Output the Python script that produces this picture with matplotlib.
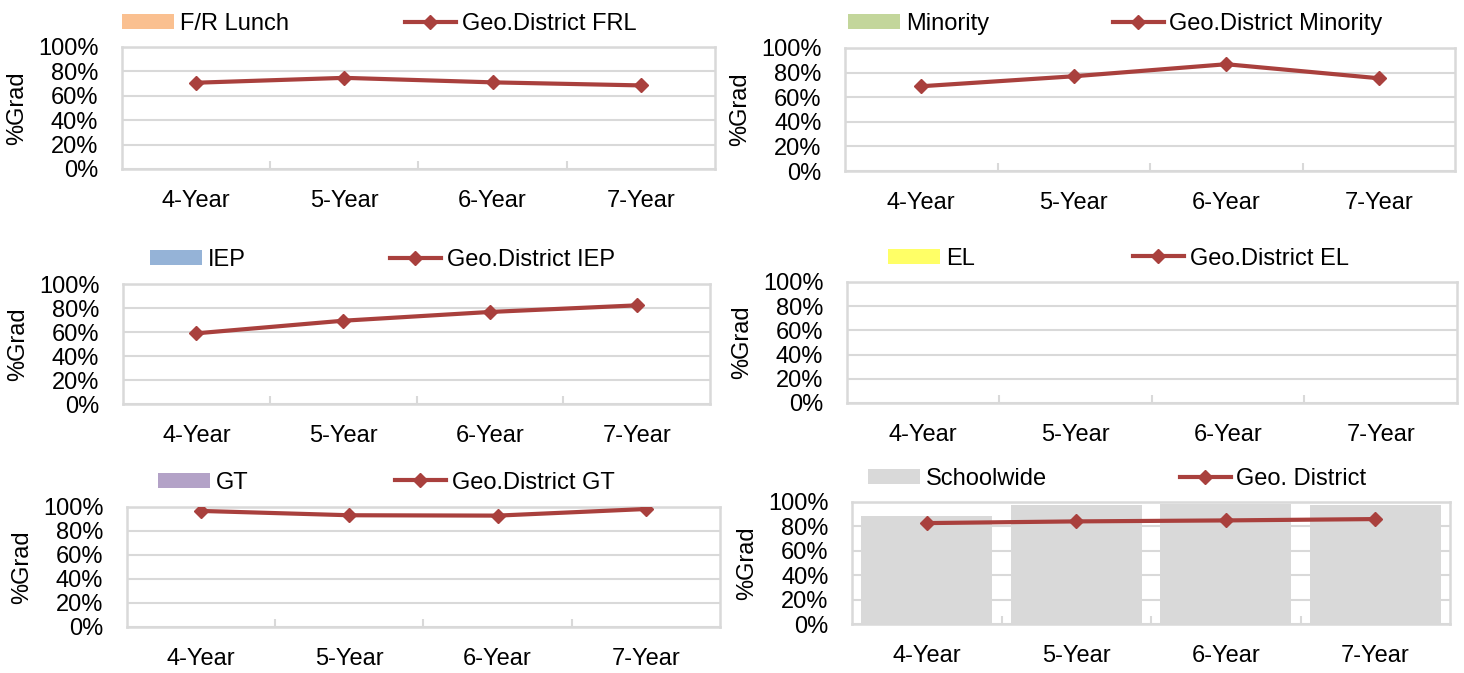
import numpy as np
import matplotlib.pyplot as plt
from matplotlib.patches import Patch
from matplotlib.lines import Line2D

plt.rcParams['font.family'] = ['Liberation Sans Narrow', 'Liberation Sans', 'DejaVu Sans']

years = ["4-Year", "5-Year", "6-Year", "7-Year"]
pct_ticks = [0, 20, 40, 60, 80, 100]

# school values (only schoolwide has bars)
frl_school = [np.nan, np.nan, np.nan, np.nan]
minority_school = [np.nan, np.nan, np.nan, np.nan]
iep_school = [np.nan, np.nan, np.nan, np.nan]
el_school = [np.nan, np.nan, np.nan, np.nan]
gt_school = [np.nan, np.nan, np.nan, np.nan]
schoolwide = [88.5, 97.3, 98.1, 97.5]

# geo district lines
frl_geo = [70.7, 74.7, 71.0, 68.5]
minority_geo = [68.9, 77.0, 86.8, 75.4]
iep_geo = [58.9, 69.4, 76.7, 82.2]
el_geo = [np.nan, np.nan, np.nan, np.nan]
gt_geo = [96.7, 93.1, 92.8, 98.3]
district = [82.7, 84.1, 84.9, 86.0]

RED = '#A9403D'
GRID = '#D9D9D9'
FS = 17

fig = plt.figure(figsize=(14.64, 6.73), dpi=100)


def panel(rect, school, geo, bar_col, bar_name, line_name, leg_bar_x, leg_line_x, leg_y):
    ax = fig.add_axes(rect)
    x = np.arange(len(years))
    ax.set_axisbelow(True)
    ax.bar(x, school, width=0.876, color=bar_col, zorder=2)
    ax.plot(x, geo, color=RED, lw=3, marker='D', ms=7.5, zorder=3)
    ax.set_xlim(-0.5, 3.5)
    ax.set_ylim(0, 100)
    ax.set_yticks(pct_ticks)
    ax.set_yticklabels([f"{t}%" for t in pct_ticks])
    ax.set_xticks(x)
    ax.set_xticklabels(years)
    ax.set_xticks([0.5, 1.5, 2.5], minor=True)
    ax.tick_params(axis='both', which='major', length=0, labelsize=FS)
    ax.tick_params(axis='y', pad=17)
    ax.tick_params(axis='x', pad=15)
    ax.tick_params(axis='x', which='minor', direction='in', length=6, width=1.5, color=GRID)
    ax.grid(axis='y', color=GRID, lw=1.5)
    for s in ax.spines.values():
        s.set_color(GRID)
        s.set_linewidth(1.8)
    ax.set_ylabel('%Grad', fontsize=FS, labelpad=7)

    h1 = Patch(facecolor=bar_col, edgecolor='none')
    leg1 = ax.legend([h1], [bar_name], loc='center left', bbox_to_anchor=(leg_bar_x, leg_y),
                     frameon=False, fontsize=FS, handlelength=2.2, handleheight=0.57,
                     handletextpad=0.25, borderpad=0, borderaxespad=0)
    ax.add_artist(leg1)
    h2 = Line2D([], [], color=RED, lw=3, marker='D', ms=7.5)
    ax.legend([h2], [line_name], loc='center left', bbox_to_anchor=(leg_line_x, leg_y),
              frameon=False, fontsize=FS, handlelength=2.15, numpoints=1,
              handletextpad=0.25, borderpad=0, borderaxespad=0)
    return ax


panel([0.0833, 0.7489, 0.4051, 0.1813], frl_school, frl_geo, '#FAC090',
      'F/R Lunch', 'Geo.District FRL', 0.0, 0.477, 1.19)
panel([0.5772, 0.7459, 0.4167, 0.1828], minority_school, minority_geo, '#C3D69B',
      'Minority', 'Geo.District Minority', 0.005, 0.439, 1.196)
panel([0.0840, 0.3997, 0.4010, 0.1783], iep_school, iep_geo, '#95B3D7',
      'IEP', 'Geo.District IEP', 0.046, 0.455, 1.202)
panel([0.5785, 0.4012, 0.4167, 0.1798], el_school, el_geo, '#FFFF66',
      'EL', 'Geo.District EL', 0.067, 0.469, 1.192)
panel([0.0867, 0.0684, 0.4051, 0.1783], gt_school, gt_geo, '#B3A2C7',
      'GT', 'Geo.District GT', 0.052, 0.452, 1.202)
panel([0.5820, 0.0728, 0.4085, 0.1813], schoolwide, district, '#D9D9D9',
      'Schoolwide', 'Geo. District', 0.027, 0.548, 1.19)

fig.savefig('out.png', dpi=100)
